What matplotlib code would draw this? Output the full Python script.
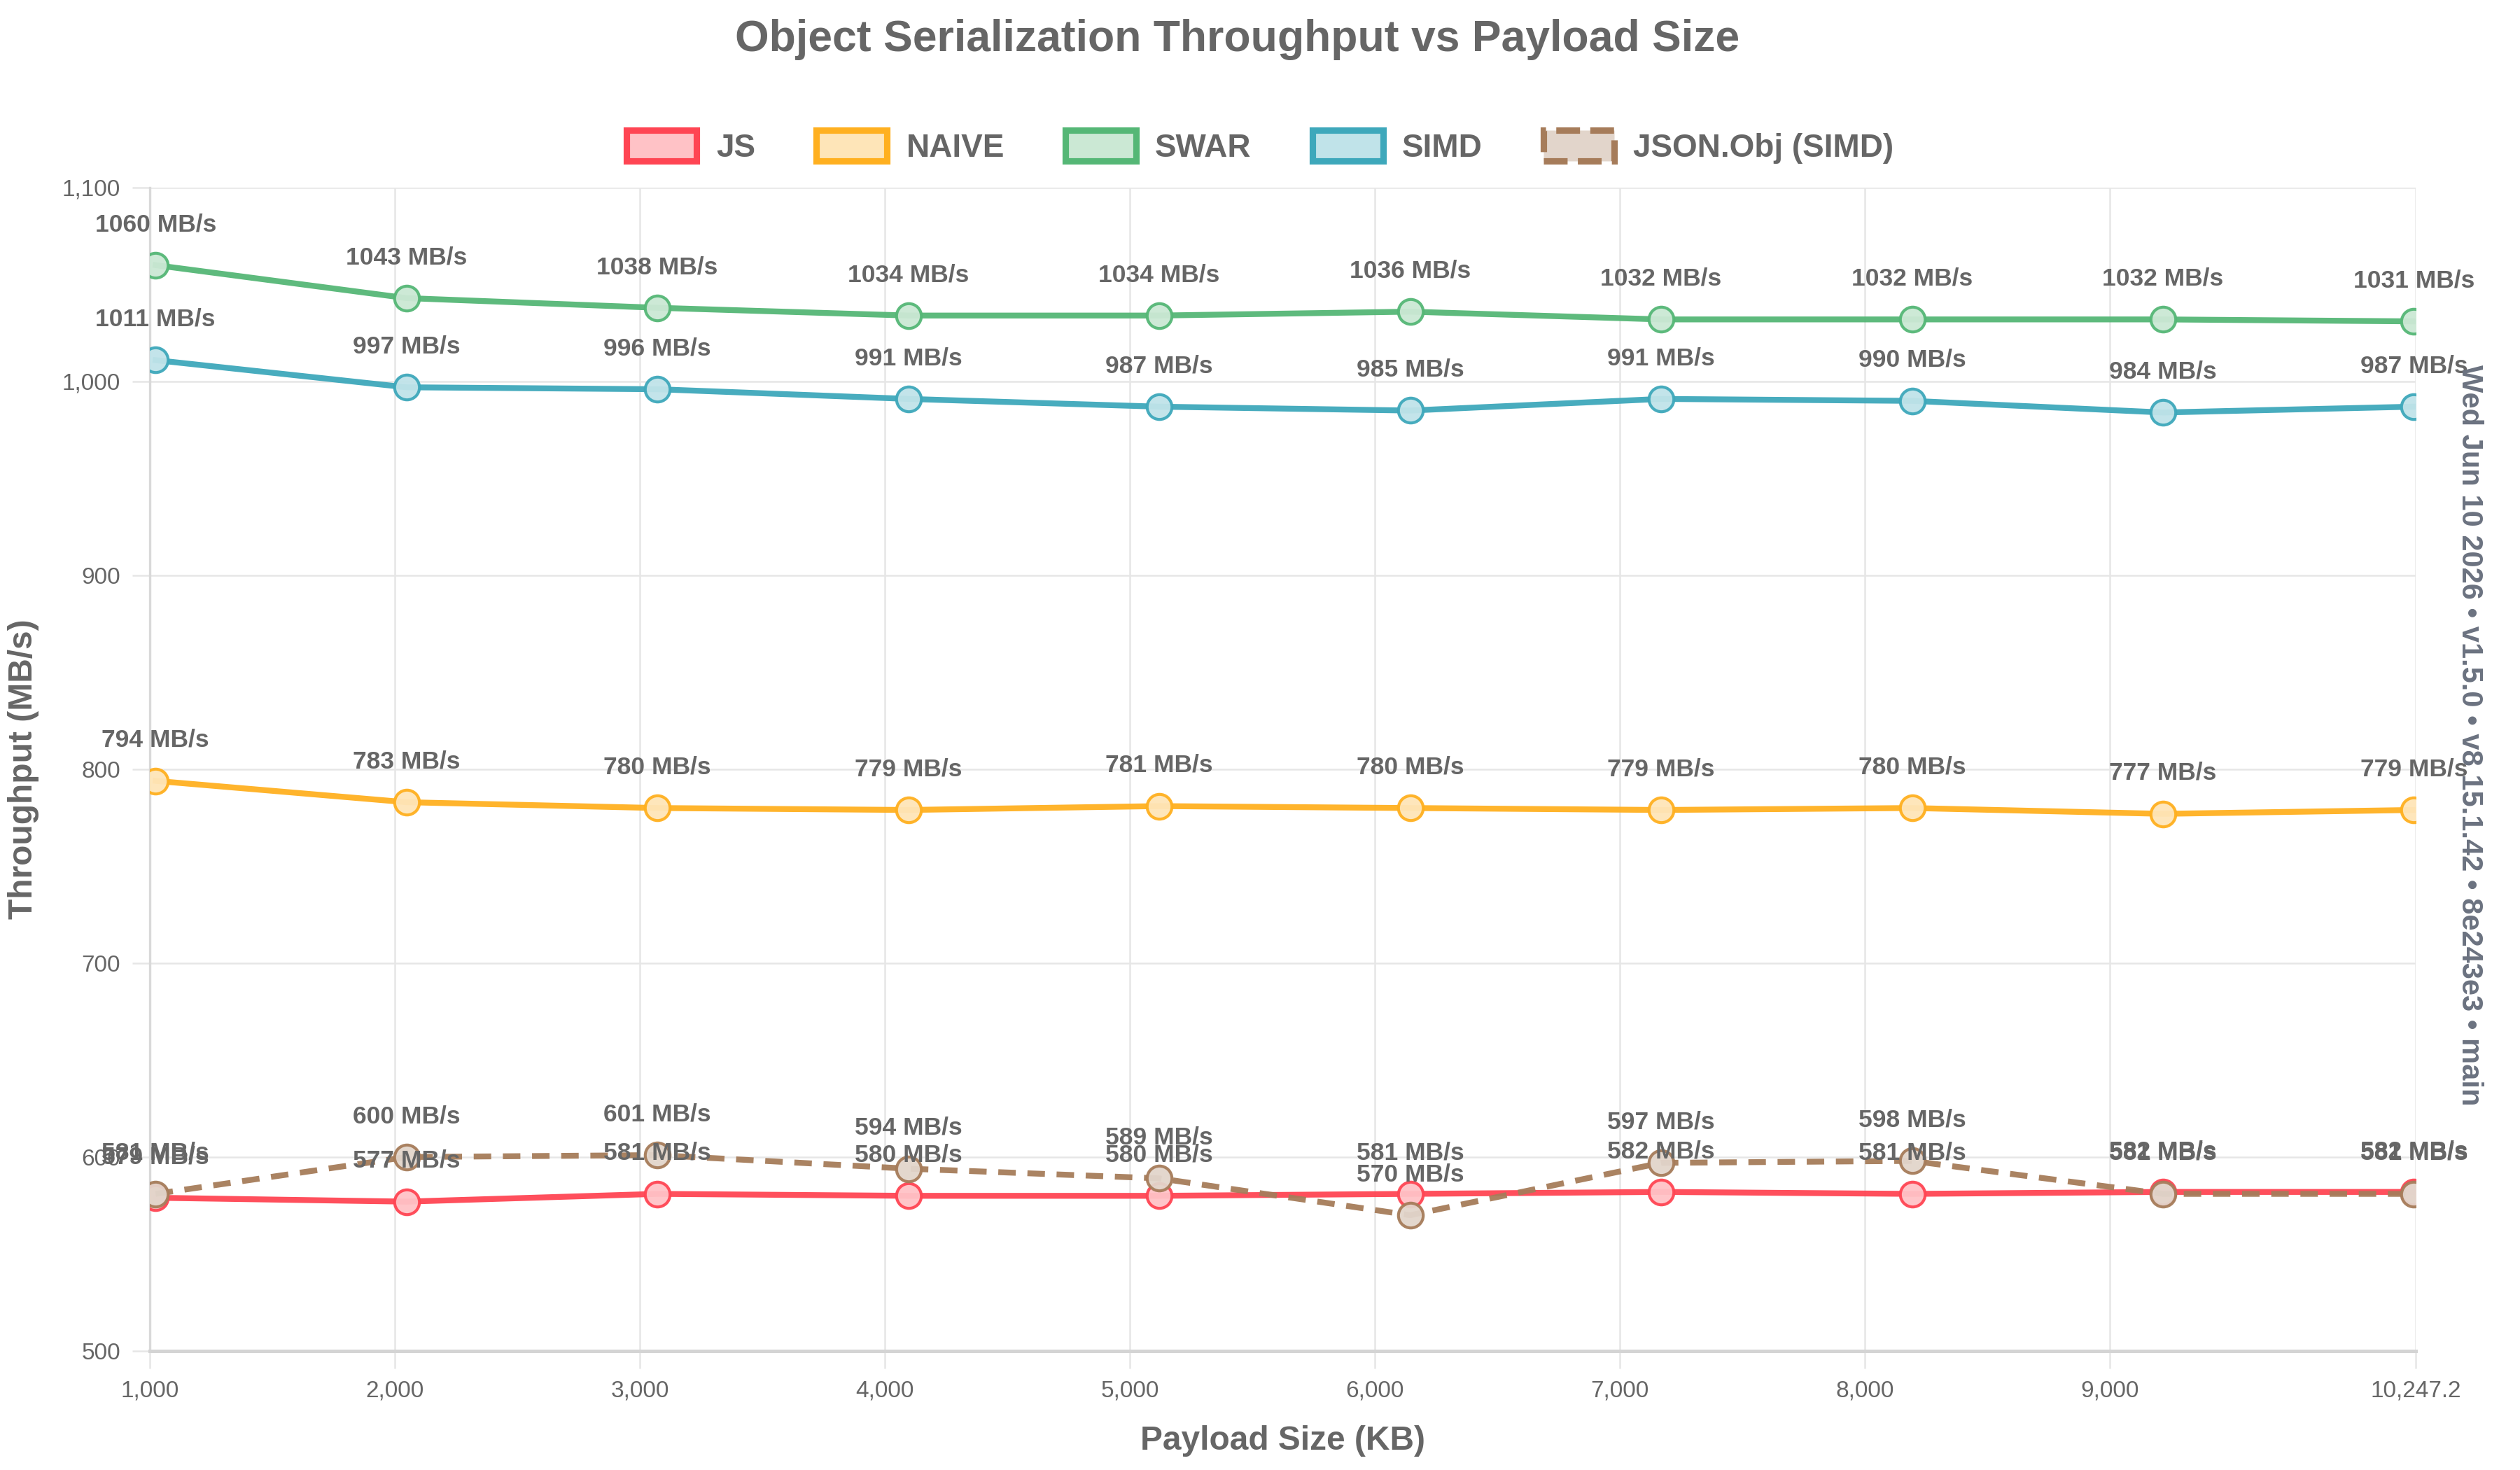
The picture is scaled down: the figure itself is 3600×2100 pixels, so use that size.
#!/usr/bin/env python3

import matplotlib
matplotlib.use("Agg")
import matplotlib.pyplot as plt
from matplotlib.patches import Patch
from matplotlib.ticker import FuncFormatter

plt.rcParams["font.family"] = ["Liberation Sans", "DejaVu Sans"]

# Payload sizes (KB)
sizes = [1024, 2048, 3072, 4096, 5120, 6144, 7168, 8192, 9216, 10240]

# Throughput (MB/s)
js = [579, 577, 581, 580, 580, 581, 582, 581, 582, 582]
naive = [794, 783, 780, 779, 781, 780, 779, 780, 777, 779]
swar = [1060, 1043, 1038, 1034, 1034, 1036, 1032, 1032, 1032, 1031]
simd = [1011, 997, 996, 991, 987, 985, 991, 990, 984, 987]
json_obj = [581, 600, 601, 594, 589, 570, 597, 598, 581, 581]

series_names = ["JS", "NAIVE", "SWAR", "SIMD", "JSON.Obj (SIMD)"]
x_ticks = [1000, 2000, 3000, 4000, 5000, 6000, 7000, 8000, 9000, 10247.2]
y_ticks = [500, 600, 700, 800, 900, 1000, 1100]

colors = ["#ff4553", "#ffb020", "#55b776", "#3ea8bb", "#a67c5a"]
fills = ["#ffc2c6", "#fee5b8", "#cbe8d4", "#c0e3e9", "#e2d5cb"]
styles = ["-", "-", "-", "-", "--"]

TEXT = "#666666"


def main():
    fig = plt.figure(figsize=(12, 7), dpi=300)
    ax = fig.add_axes([0.0594, 0.081, 0.8992, 0.7914])

    data = [js, naive, swar, simd, json_obj]
    for vals, c, f, ls in zip(data, colors, fills, styles):
        ax.plot(sizes, vals, color=c, lw=2.0, ls=ls, dashes=(3, 2) if ls == "--" else (None, None),
                marker="o", ms=8.5, mfc=f, mec=c, mew=1.0, zorder=3, alpha=0.95)
    for vals in data:
        for x, y in zip(sizes, vals):
            ax.annotate(f"{y} MB/s", (x, y), xytext=(0, 10), textcoords="offset points",
                        ha="center", va="bottom", fontsize=8.5, fontweight="bold",
                        color=TEXT, zorder=5, annotation_clip=False)

    ax.set_xlim(1000, 10247.2)
    ax.set_ylim(500, 1100)
    ax.set_xticks(x_ticks)
    ax.set_yticks(y_ticks)
    ax.xaxis.set_major_formatter(FuncFormatter(lambda v, p: f"{v:,.1f}" if v % 1 else f"{v:,.0f}"))
    ax.yaxis.set_major_formatter(FuncFormatter(lambda v, p: f"{v:,.0f}"))
    ax.tick_params(axis="both", labelsize=8, colors=TEXT, length=6, width=0.6,
                   color="#e6e6e6", pad=4)
    ax.grid(True, color="#e6e6e6", lw=0.6)
    ax.set_axisbelow(True)
    for s in ["top", "right"]:
        ax.spines[s].set_visible(False)
    ax.spines["left"].set_color("#d9d9d9")
    ax.spines["bottom"].set_color("#d4d4d4")
    ax.spines["bottom"].set_linewidth(1.2)

    ax.set_xlabel("Payload Size (KB)", fontsize=11.5, fontweight="bold", color=TEXT, labelpad=8)
    ax.set_ylabel("Throughput (MB/s)", fontsize=11.5, fontweight="bold", color=TEXT, labelpad=8)

    fig.text(0.491, 0.973, "Object Serialization Throughput vs Payload Size", ha="center",
             va="center", fontsize=15, fontweight="bold", color=TEXT)

    handles = [Patch(facecolor=f, edgecolor=c, lw=2.2, ls=ls)
               for c, f, ls in zip(colors, fills, styles)]
    fig.legend(handles, series_names, loc="center", bbox_to_anchor=(0.5, 0.9), ncol=5,
               frameon=False, prop={"size": 11, "weight": "bold"}, labelcolor=TEXT,
               handlelength=2.2, handleheight=1.1, columnspacing=1.9, handletextpad=0.6)

    fig.text(0.98, 0.50, "Wed Jun 10 2026 \u2022 v1.5.0 \u2022 v8 15.1.42 \u2022 8e243e3 \u2022 main",
             rotation=-90, ha="center", va="center", fontsize=10, fontweight="bold",
             color="#6b7280")

    fig.savefig("out.png", dpi=300, facecolor="white")


if __name__ == "__main__":
    main()
